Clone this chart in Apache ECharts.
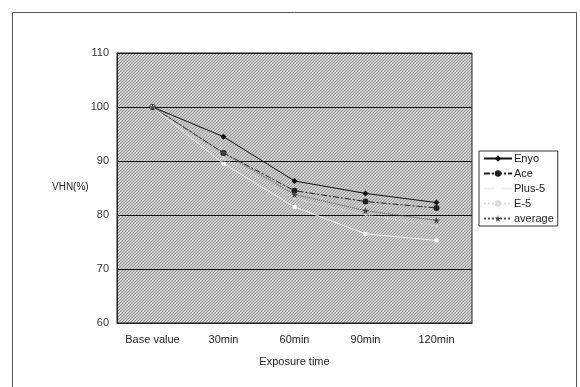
<!DOCTYPE html>
<html lang="en">
  <head>
    <meta charset="UTF-8" />
    <title>VHN(%) by exposure time</title>
    <style>
      * {
        margin: 0;
        padding: 0;
      }
      body {
        background: #fff;
      }
    </style>
  </head>
  <body>
    <div id="main" style="width: 580px; height: 387px"></div>
    <script src="https://cdn.jsdelivr.net/npm/echarts@6/dist/echarts.min.js"></script>
    <script>
      // categories on the x axis
      var times = ["Base value", "30min", "60min", "90min", "120min"];
      // VHN(%) for each material
      var enyo = [100, 94.5, 86.3, 84.0, 82.3];
      var ace = [100, 91.5, 84.5, 82.5, 81.3];
      var plus5 = [100, 89.5, 81.5, 76.5, 75.3];
      var e5 = [100, 90.5, 83.0, 80.0, 78.0];
      var average = [100, 91.5, 83.8, 80.8, 79.0];

      var star =
        "path://M50,0 L61,35 L98,35 L68,57 L79,92 L50,70 L21,92 L32,57 L2,35 L39,35 Z";

      // grey hatched plot area like the old excel chart
      var pat = document.createElement("canvas");
      pat.width = 3;
      pat.height = 3;
      var pc = pat.getContext("2d");
      pc.fillStyle = "#cbcbcb";
      pc.fillRect(0, 0, 3, 3);
      pc.fillStyle = "#9c9c9c";
      for (var k = 0; k < 3; k++) {
        pc.fillRect(2 - k, k, 1, 1);
      }

      var font = "'Liberation Sans', Arial, sans-serif";
      var myChart = echarts.init(document.getElementById("main"));

      myChart.setOption({
        animation: false,
        textStyle: { fontFamily: font },
        graphic: [
          {
            // outer frame, bottom edge runs off the picture
            type: "rect",
            shape: { x: 12.5, y: 12.5, width: 564, height: 400 },
            style: { fill: null, stroke: "#555", lineWidth: 1 },
          },
          {
            type: "text",
            left: 52,
            top: 182,
            style: {
              text: "VHN(%)",
              font: "10px " + font,
              fill: "#222",
            },
          },
        ],
        grid: {
          left: 117,
          right: 108,
          top: 53,
          bottom: 64,
          show: true,
          backgroundColor: { image: pat, repeat: "repeat" },
          borderColor: "#222",
          borderWidth: 1,
        },
        legend: {
          orient: "vertical",
          left: 479,
          top: 151,
          width: 79,
          padding: [1, 4, 1, 4],
          itemWidth: 28,
          itemHeight: 8,
          itemGap: 2,
          backgroundColor: "#fff",
          borderColor: "#333",
          borderWidth: 1,
          borderRadius: 0,
          textStyle: {
            fontSize: 11,
            color: "#222",
            lineHeight: 13,
            padding: [0, 0, 0, -3],
          },
          data: ["Enyo", "Ace", "Plus-5", "E-5", "average"],
        },
        xAxis: {
          type: "category",
          data: times,
          boundaryGap: true,
          name: "Exposure time",
          nameLocation: "middle",
          nameGap: 33,
          nameTextStyle: { fontSize: 11, color: "#222" },
          axisLine: { lineStyle: { color: "#222" } },
          axisTick: { show: false },
          axisLabel: { fontSize: 11, color: "#222", margin: 11 },
        },
        yAxis: {
          type: "value",
          min: 60,
          max: 110,
          interval: 10,
          axisLine: { show: true, lineStyle: { color: "#222" } },
          axisTick: { show: false },
          axisLabel: { fontSize: 11, color: "#333", margin: 8 },
          splitLine: { lineStyle: { color: "#111", width: 1 } },
        },
        series: [
          {
            name: "Enyo",
            type: "line",
            data: enyo,
            symbol: "diamond",
            symbolSize: 6,
            color: "#111",
            lineStyle: { color: "#111", width: 1 },
            itemStyle: { color: "#111" },
          },
          {
            name: "Ace",
            type: "line",
            data: ace,
            symbol: "circle",
            symbolSize: 6,
            color: "#222",
            lineStyle: { color: "#222", width: 1, type: [6, 2, 2, 2] },
            itemStyle: { color: "#222" },
          },
          {
            name: "Plus-5",
            type: "line",
            data: plus5,
            symbol: "rect",
            symbolSize: 4,
            color: "#f4f4f4",
            lineStyle: { color: "#eeeeee", width: 1 },
            itemStyle: { color: "#ffffff" },
          },
          {
            name: "E-5",
            type: "line",
            data: e5,
            symbol: "circle",
            symbolSize: 2,
            color: "#cccccc",
            lineStyle: { color: "#dddddd", width: 1, type: "dotted" },
            itemStyle: { color: "#dddddd" },
          },
          {
            name: "average",
            type: "line",
            data: average,
            symbol: star,
            symbolSize: 7,
            color: "#555",
            lineStyle: { color: "#555", width: 1, type: "dotted" },
            itemStyle: { color: "#444" },
          },
        ],
      });
    </script>
  </body>
</html>
